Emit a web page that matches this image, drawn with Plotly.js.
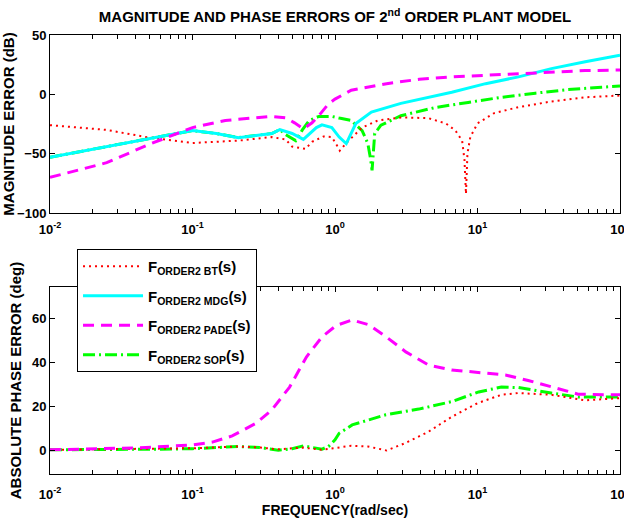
<!DOCTYPE html>
<html>
<head>
<meta charset="utf-8">
<script src="https://cdn.plot.ly/plotly-3.0.1.min.js"></script>
<style>html,body{margin:0;padding:0;background:#fff;}#chart{width:624px;height:523px;}</style>
</head>
<body>
<div id="chart"></div>
<script>
// ---- Magnitude error (dB) ----
const wMagBT   = [0.01, 0.025, 0.05, 0.1, 0.21, 0.36, 0.45, 0.5, 0.62, 0.69, 0.83, 0.95, 1.02, 1.08, 1.2, 1.55, 2.0, 2.9, 4.5, 6.0, 7.0, 7.8, 8.1, 8.3, 8.5, 8.9, 10, 13, 19, 33, 57, 100];
const magBT    = [-26, -30, -36.5, -41, -39, -36, -38, -44, -46, -40, -35.5, -36, -42, -47.5, -41, -28, -22, -19.5, -20, -24.5, -30.5, -39, -55, -84, -50, -36, -24.5, -16, -11, -6, -2.5, -1];

const wMagMDG  = [0.01, 0.059, 0.1, 0.147, 0.21, 0.36, 0.41, 0.5, 0.6, 0.74, 0.81, 0.95, 1.07, 1.2, 1.4, 1.8, 2.9, 6.6, 11.4, 19.4, 33, 57, 100];
const magMDG   = [-53, -36, -30.5, -33, -36.5, -33, -29.7, -33, -38, -28, -25.7, -28, -36, -41.5, -24.6, -15, -7.6, 1.7, 9, 14.7, 21.7, 27.4, 33];

const wMagPADE = [0.01, 0.025, 0.05, 0.1, 0.17, 0.36, 0.45, 0.52, 0.6, 0.69, 0.77, 0.9, 1.0, 1.3, 2.3, 3.9, 6.6, 11.4, 19.4, 33, 57, 100];
const magPADE  = [-70, -57.6, -42, -28, -22, -18.6, -19.8, -24, -29, -24, -18, -8, -4, 3.4, 9, 12.7, 14.7, 16, 17.5, 18.6, 20, 20.5];

const wMagSOP  = [0.01, 0.059, 0.1, 0.147, 0.21, 0.36, 0.41, 0.45, 0.53, 0.59, 0.66, 0.77, 0.95, 1.07, 1.3, 1.55, 1.7, 1.78, 1.82, 1.9, 2.1, 2.9, 5.1, 8.6, 14.7, 25.5, 43, 74, 100];
const magSOP   = [-53, -36, -30.5, -33, -36.5, -33, -29.7, -34, -39, -30, -22, -18.6, -18.6, -20, -22, -30.5, -41.5, -55, -64, -33, -26, -18, -11, -6.8, -2.5, 1, 4, 6, 7];

// ---- Absolute phase error (deg) ----
const wPhBT    = [0.01, 0.03, 0.06, 0.1, 0.15, 0.21, 0.3, 0.4, 0.5, 0.6, 0.8, 1.0, 1.3, 1.7, 2.3, 3.1, 4.5, 6.6, 10, 14.7, 19.4, 33, 57, 100];
const phBT     = [0.5, 0.7, 1.0, 1.2, 1.6, 2.0, 1.5, 0.7, 1.2, 1.5, 0.5, 1.4, 2.3, 2.0, 0.2, 3.5, 8.6, 15.5, 21.7, 25.5, 26.3, 25.5, 23, 24];

const wPhPADE  = [0.01, 0.043, 0.1, 0.138, 0.19, 0.28, 0.36, 0.48, 0.63, 0.81, 1.02, 1.32, 1.73, 2.27, 3.14, 4.54, 6.58, 10.2, 15.7, 22.7, 32.9, 50.8, 86.5, 100];
const phPADE   = [0.5, 1.4, 2.7, 4, 6.8, 12.6, 18.6, 29, 42.7, 51.8, 57, 59.5, 57.3, 52, 45, 39, 36.8, 35.7, 34.5, 32, 29, 25.8, 25.5, 25.5];

const wPhSOP   = [0.01, 0.03, 0.06, 0.1, 0.15, 0.21, 0.3, 0.4, 0.5, 0.6, 0.7, 0.81, 0.9, 1.0, 1.07, 1.32, 2.27, 3.87, 6.58, 10.2, 14.7, 19.4, 32.9, 50.8, 100];
const phSOP    = [0.5, 0.5, 0.8, 1.0, 1.5, 2.0, 1.5, 0.3, 1.0, 2.3, 1.5, 0.8, 2.0, 5.0, 8.0, 11.8, 16.4, 19, 22.4, 26.8, 29, 28.8, 26.3, 24.5, 24.5];

const seriesNames = ['F<sub>ORDER2 BT</sub>(s)', 'F<sub>ORDER2 MDG</sub>(s)', 'F<sub>ORDER2 PADE</sub>(s)', 'F<sub>ORDER2 SOP</sub>(s)'];
const decadeVals = [0.01, 0.1, 1, 10, 100];
const decadeLabels = ['10<sup>-2</sup>', '10<sup>-1</sup>', '10<sup>0</sup>', '10<sup>1</sup>', '10<sup>2</sup>'];
const magTicks = [-100, -50, 0, 50];
const phTicks = [0, 20, 40, 60];

const styles = {
  BT:   {color: '#ff0000', width: 2, dash: '2px,4px'},
  MDG:  {color: '#00ffff', width: 3, dash: 'solid'},
  PADE: {color: '#ff00ff', width: 3, dash: '11px,7px'},
  SOP:  {color: '#00ff00', width: 3, dash: '12px,4px,2px,4px'}
};

function tr(x, y, key, idx, ax, show) {
  return {x: x, y: y, type: 'scatter', mode: 'lines', name: seriesNames[idx],
    line: styles[key], xaxis: 'x' + (ax === 1 ? '' : ax), yaxis: 'y' + (ax === 1 ? '' : ax),
    legendgroup: key, showlegend: show, legendrank: idx + 1, hoverinfo: 'skip'};
}

// draw order: SOP beneath the others
const data = [
  tr(wMagSOP, magSOP, 'SOP', 3, 1, true),
  tr(wMagBT, magBT, 'BT', 0, 1, true),
  tr(wMagMDG, magMDG, 'MDG', 1, 1, true),
  tr(wMagPADE, magPADE, 'PADE', 2, 1, true),
  tr(wPhSOP, phSOP, 'SOP', 3, 2, false),
  tr(wPhBT, phBT, 'BT', 0, 2, false),
  tr(wPhPADE, phPADE, 'PADE', 2, 2, false)
];

const minorVals = [];
for (let d = -2; d <= 1; d++) {
  for (let k = 2; k <= 9; k++) minorVals.push(k * Math.pow(10, d));
}

const F = 'Arial, "Liberation Sans", Helvetica, sans-serif';
const tickFont = {family: F, size: 13, color: '#000', weight: 'bold'};
const baseX = {type: 'log', range: [-2, 2], tickmode: 'array', tickvals: decadeVals, ticktext: decadeLabels,
  ticks: 'inside', ticklen: 5, tickcolor: '#000', tickwidth: 1, showline: true, linecolor: '#000', linewidth: 1,
  mirror: 'allticks', showgrid: false, zeroline: false, tickfont: tickFont, fixedrange: true,
  ticklabeloverflow: 'allow',
  minor: {tickmode: 'array', tickvals: minorVals, ticks: 'inside', ticklen: 4, tickcolor: '#000', tickwidth: 1, showgrid: false}};
const baseY = {ticks: 'inside', ticklen: 5, tickcolor: '#000', tickwidth: 1, showline: true, linecolor: '#000', linewidth: 1,
  mirror: 'allticks', showgrid: false, zeroline: false, tickfont: tickFont, tickmode: 'array', fixedrange: true};

const layout = {
  width: 624, height: 523,
  margin: {l: 50, r: 4, t: 35, b: 49},
  paper_bgcolor: '#fff', plot_bgcolor: '#fff',
  font: {family: F, color: '#000'},
  title: {text: 'MAGNITUDE AND PHASE ERRORS OF 2<sup>nd</sup> ORDER PLANT MODEL',
    font: {family: F, size: 15, color: '#000', weight: 'bold'},
    xref: 'paper', x: 0.5, xanchor: 'center', yref: 'container', y: 1 - 17 / 523, yanchor: 'middle'},
  xaxis: Object.assign({}, baseX, {domain: [0, 1], anchor: 'y', ticklabelstandoff: 4}),
  yaxis: Object.assign({}, baseY, {domain: [0.5945, 1], anchor: 'x', range: [-100, 50], tickvals: magTicks,
    title: {text: 'MAGNITUDE ERROR (dB)', font: {family: F, size: 15, color: '#000', weight: 'bold'}, standoff: 6}}),
  xaxis2: Object.assign({}, baseX, {domain: [0, 1], anchor: 'y2', ticklabelstandoff: 8,
    title: {text: 'FREQUENCY(rad/sec)', font: {family: F, size: 14, color: '#000', weight: 'bold'}, standoff: 4}}),
  yaxis2: Object.assign({}, baseY, {domain: [0, 0.426], anchor: 'x2', range: [-10.5, 74.5], tickvals: phTicks,
    title: {text: 'ABSOLUTE PHASE ERROR (deg)', font: {family: F, size: 15, color: '#000', weight: 'bold'}, standoff: 6}}),
  showlegend: true,
  legend: {x: 0.0474, y: 0.5125, xanchor: 'left', yanchor: 'top', xref: 'paper', yref: 'paper',
    bgcolor: '#fff', bordercolor: '#000', borderwidth: 1,
    font: {family: F, size: 15, color: '#000', weight: 'bold'},
    traceorder: 'grouped', tracegroupgap: 7, itemwidth: 60}
};

Plotly.newPlot('chart', data, layout, {staticPlot: true, displayModeBar: false});
</script>
</body>
</html>
